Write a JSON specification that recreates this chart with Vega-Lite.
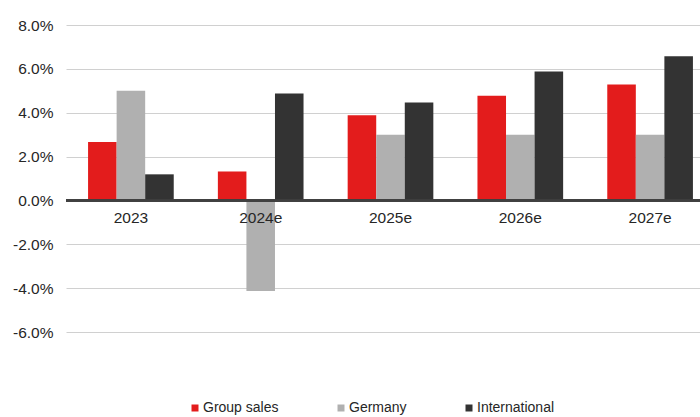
{
  "$schema": "https://vega.github.io/schema/vega-lite/v6.json",
  "width": 634,
  "height": 307,
  "autosize": {"type": "none"},
  "padding": {"left": 66, "top": 25, "right": 0, "bottom": 85},
  "background": "white",
  "config": {"view": {"stroke": null}, "font": "Liberation Sans"},
  "data": {
    "values": [
      {"year": "2023", "series": "Group sales", "value": 0.0266},
      {"year": "2023", "series": "Germany", "value": 0.050},
      {"year": "2023", "series": "International", "value": 0.0119},
      {"year": "2024e", "series": "Group sales", "value": 0.0132},
      {"year": "2024e", "series": "Germany", "value": -0.0413},
      {"year": "2024e", "series": "International", "value": 0.0488},
      {"year": "2025e", "series": "Group sales", "value": 0.0389},
      {"year": "2025e", "series": "Germany", "value": 0.030},
      {"year": "2025e", "series": "International", "value": 0.0447},
      {"year": "2026e", "series": "Group sales", "value": 0.0477},
      {"year": "2026e", "series": "Germany", "value": 0.030},
      {"year": "2026e", "series": "International", "value": 0.0588},
      {"year": "2027e", "series": "Group sales", "value": 0.0529},
      {"year": "2027e", "series": "Germany", "value": 0.030},
      {"year": "2027e", "series": "International", "value": 0.0657}
    ]
  },
  "layer": [
    {
      "mark": {"type": "bar"},
      "encoding": {
        "x": {
          "field": "year",
          "type": "nominal",
          "sort": null,
          "scale": {"range": [0, 649], "paddingInner": 0.34, "paddingOuter": 0.17},
          "axis": {
            "title": null,
            "orient": "bottom",
            "offset": -132,
            "zindex": 2,
            "domain": false,
            "ticks": false,
            "labelPadding": 10,
            "labelFontSize": 15.5,
            "labelColor": "#262626",
            "labelAngle": 0
          }
        },
        "xOffset": {
          "field": "series",
          "type": "nominal",
          "sort": ["Group sales", "Germany", "International"],
          "scale": {"paddingInner": 0, "paddingOuter": 0}
        },
        "y": {
          "field": "value",
          "type": "quantitative",
          "scale": {"domain": [-0.06, 0.08], "nice": false, "zero": false},
          "axis": {
            "title": null,
            "values": [-0.06, -0.04, -0.02, 0, 0.02, 0.04, 0.06, 0.08],
            "format": ".1%",
            "labelExpr": "replace(datum.label, '\u2212', '-')",
            "domain": false,
            "ticks": false,
            "labelPadding": 13,
            "labelFontSize": 15.5,
            "labelColor": "#262626",
            "gridColor": "#d0d0d0",
            "gridWidth": 1
          }
        },
        "color": {
          "field": "series",
          "type": "nominal",
          "scale": {
            "domain": ["Group sales", "Germany", "International"],
            "range": ["#e31c1c", "#b0b0b0", "#333333"]
          },
          "legend": {
            "title": null,
            "orient": "none",
            "direction": "horizontal",
            "legendX": 122,
            "legendY": 376,
            "symbolType": "square",
            "symbolSize": 49,
            "symbolStrokeWidth": 0,
            "labelFontSize": 14,
            "labelColor": "#262626",
            "labelOffset": 1,
            "columnPadding": 55
          }
        }
      }
    },
    {
      "mark": {"type": "rule", "color": "#404040", "strokeWidth": 1.5},
      "encoding": {"y": {"datum": 0}}
    }
  ]
}
